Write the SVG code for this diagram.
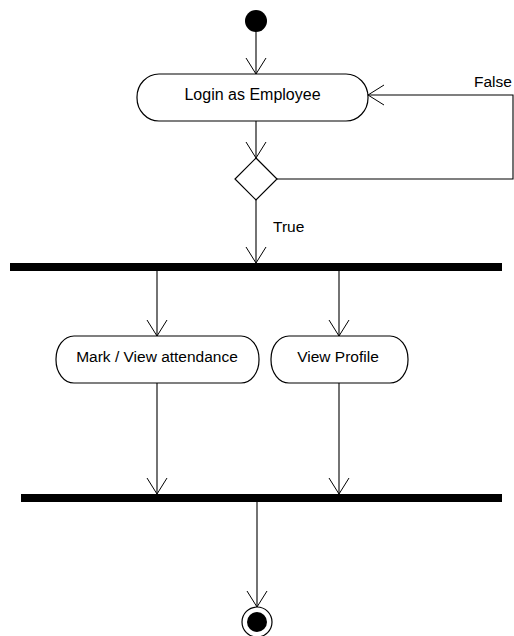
<svg xmlns="http://www.w3.org/2000/svg" width="514" height="636" viewBox="0 0 514 636">
<style>
.n{fill:#fff;stroke:#000;stroke-width:1.2}
.t{font-family:"Liberation Sans",Arial,sans-serif;font-size:15.5px;fill:#000}
.e{fill:none;stroke:#000;stroke-width:1.1}
.bar{fill:#000}
</style>
<defs>
<marker id="a" markerWidth="22" markerHeight="18" refX="16" refY="10" orient="auto" markerUnits="userSpaceOnUse" overflow="visible">
<path d="M0,0 L16,10 L0,20" fill="none" stroke="#000" stroke-width="1"/>
</marker>
</defs>
<rect width="514" height="636" fill="#fff"/>
<g id="connectors">
<line class="e" x1="256" y1="32" x2="256" y2="74" marker-end="url(#a)"/>
<line class="e" x1="256" y1="121" x2="256" y2="158" marker-end="url(#a)"/>
<polyline class="e" points="277,179 513,179 513,95 368,95" marker-end="url(#a)"/>
<line class="e" x1="256" y1="200" x2="256" y2="263" marker-end="url(#a)"/>
<line class="e" x1="157" y1="271" x2="157" y2="336" marker-end="url(#a)"/>
<line class="e" x1="339" y1="271" x2="339" y2="336" marker-end="url(#a)"/>
<line class="e" x1="157" y1="383" x2="157" y2="494" marker-end="url(#a)"/>
<line class="e" x1="339" y1="383" x2="339" y2="494" marker-end="url(#a)"/>
<line class="e" x1="257" y1="502" x2="257" y2="607" marker-end="url(#a)"/>
<text class="t" x="474" y="87">False</text>
<text class="t" x="273" y="232">True</text>
</g>
<g id="start"><circle cx="256" cy="21" r="11" fill="#000"/></g>
<g id="login">
<rect class="n" x="137" y="74" width="231" height="47" rx="22" ry="23"/>
<text class="t" x="252.5" y="100" text-anchor="middle" style="font-size:16px">Login as Employee</text>
</g>
<g id="decision"><polygon class="n" points="256,158 277,179 256,200 235,179"/></g>
<g id="fork"><rect class="bar" x="10" y="263" width="492" height="8"/></g>
<g id="mark">
<rect class="n" x="56" y="336" width="203" height="47" rx="18" ry="23"/>
<text class="t" x="157" y="362" text-anchor="middle">Mark / View attendance</text>
</g>
<g id="profile">
<rect class="n" x="271" y="336" width="137" height="47" rx="18" ry="23"/>
<text class="t" x="338" y="362" text-anchor="middle">View Profile</text>
</g>
<g id="join"><rect class="bar" x="21" y="494" width="481" height="8"/></g>
<g id="end">
<circle cx="257" cy="622" r="15" fill="#fff" stroke="#000" stroke-width="1.2"/>
<circle cx="257" cy="622" r="10" fill="#000"/>
</g>
</svg>
